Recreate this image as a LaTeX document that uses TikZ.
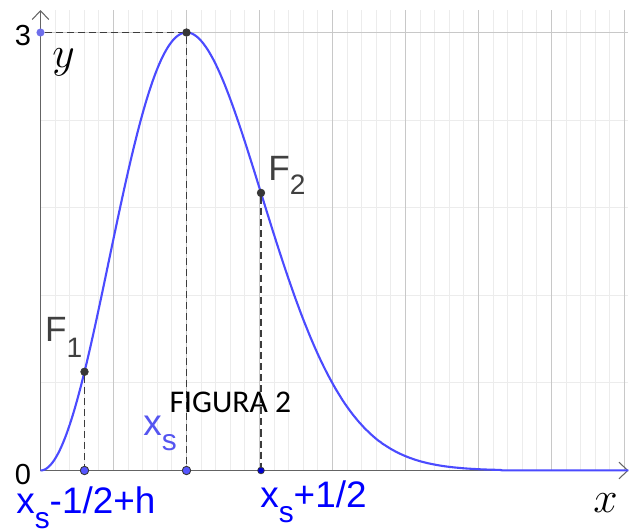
\documentclass[tikz,border=0pt]{standalone}
\usepackage{fontspec}
\setmainfont{Liberation Sans}
\newfontfamily\carlitofont{Carlito}
\usetikzlibrary{arrows.meta}
\definecolor{curveblue}{RGB}{75,75,255}
\definecolor{labblue}{RGB}{0,0,255}
\definecolor{lightlab}{RGB}{85,85,240}
\definecolor{ptblue}{RGB}{85,85,255}
\definecolor{ptdark}{RGB}{0,0,210}
\definecolor{ptpurple}{RGB}{110,110,235}
\definecolor{ptgray}{RGB}{55,55,55}
\definecolor{labgray}{RGB}{64,64,64}
\definecolor{gmaj}{RGB}{200,200,200}
\definecolor{gmin}{RGB}{236,236,236}
\definecolor{axisgray}{RGB}{100,100,100}
\definecolor{dashgray}{RGB}{60,60,60}
\newcommand\mysubfont{\fontsize{17}{20}\selectfont}
\begin{document}
\begin{tikzpicture}[x=0.02cm,y=0.02cm,
  declare function={f(\u)=438*(\u/146)^2*exp(1-(\u/146)^2);},
  gridmin/.style={draw=gmin,line width=0.6pt},
  gridmaj/.style={draw=gmaj,line width=0.6pt},
  axisline/.style={draw=axisgray,line width=0.9pt},
  curveline/.style={draw=curveblue,line width=1.2pt},
  dashline/.style={draw=dashgray,line width=0.9pt,dash pattern=on 4pt off 2.3pt},
  dotbig/.style={circle,inner sep=0pt,minimum size=4.8pt,fill=ptblue,draw=ptgray,line width=0.5pt},
  dotsmall/.style={circle,inner sep=0pt,minimum size=3.8pt,fill=ptdark,draw=ptgray,line width=0.4pt},
  dotgray/.style={circle,inner sep=0pt,minimum size=4.3pt,fill=ptgray,draw=ptgray,line width=0.4pt},
  dotpurple/.style={circle,inner sep=0pt,minimum size=4.6pt,fill=ptpurple},
  lab/.style={anchor=base west,inner sep=0pt}
]
\fill[white] (-40.5,-58.5) rectangle (596.5,470.5);
\useasboundingbox (-40.5,-58.5) rectangle (596.5,470.5);
% grid
\foreach \i in {1,...,40} \draw[gridmin] ({\i*14.6},0) -- ({\i*14.6},460.5);
\foreach \v in {87.6,175.2,262.8,350.4} \draw[gridmin] (0,\v) -- (588,\v);
\foreach \i in {1,...,8} \draw[gridmaj] ({\i*73},0) -- ({\i*73},460.5);
\draw[gridmaj] (0,438) -- (588,438);
% axes
\coordinate (O) at (0,0);
\coordinate (xend) at (588,0);
\coordinate (yend) at (0,460.5);
\draw[axisline,-{Straight Barb[length=5pt,width=9.5pt,line width=0.6pt]}] (O) -- (xend);
\draw[axisline,-{Straight Barb[length=5pt,width=9.5pt,line width=0.6pt]}] (O) -- (yend);
% curve
\draw[curveline] plot[domain=0:588,samples=300,smooth] (\x,{f(\x)});
% points
\node[dotpurple] (Y3) at (0,438) {};
\node[dotgray] (P) at (146,438) {};
\node[dotgray] (F1) at (44,{f(44)}) {};
\node[dotgray] (F2) at (220.5,{f(220.5)}) {};
\node[dotbig] (B1) at (44,0) {};
\node[dotbig] (B0) at (146,0) {};
\node[dotsmall] (B2) at (220.5,0) {};
% dashed
\draw[dashline] (Y3) -- (P);
\draw[dashline] (P) -- (B0);
\draw[dashline] (F1) -- (B1);
\draw[dashline] (F2) -- (B2);
% labels
\node[lab,font=\fontsize{16.5}{18}\selectfont] (lab3) at (-26,425.5) {3};
\node[lab,font=\fontsize{16.5}{18}\selectfont] (lab0) at (-26,-14) {0};
\node[lab,font=\fontsize{24}{28}\selectfont] (laby) at (11.5,403.5) {$y$};
\node[lab,font=\fontsize{24}{28}\selectfont] (labx) at (552.5,-41.5) {$x$};
\node[lab,text=labgray,font=\fontsize{20}{24}\selectfont] (labF1) at (4.2,128.8) {F\raisebox{-9pt}{\fontsize{16}{18}\selectfont 1}};
\node[lab,text=labgray,font=\fontsize{20}{24}\selectfont] (labF2) at (227.5,290.5) {F\raisebox{-8.5pt}{\fontsize{16}{18}\selectfont 2}};
\node[lab,font=\carlitofont\fontsize{18}{22}\selectfont] (labfig) at (128.8,58.2) {FIGURA 2};
\node[lab,text=lightlab,font=\fontsize{21}{25}\selectfont] (labxs) at (102.5,35.5) {x\raisebox{-8.8pt}{\mysubfont s}};
\node[lab,text=labblue,font=\fontsize{21}{25}\selectfont] (labL) at (-24.5,-42.8) {x\raisebox{-8.8pt}{\mysubfont s}-1/2+h};
\node[lab,text=labblue,font=\fontsize{21}{25}\selectfont] (labR) at (219.5,-36.5) {x\raisebox{-8.8pt}{\mysubfont s}+1/2};
\end{tikzpicture}
\end{document}
